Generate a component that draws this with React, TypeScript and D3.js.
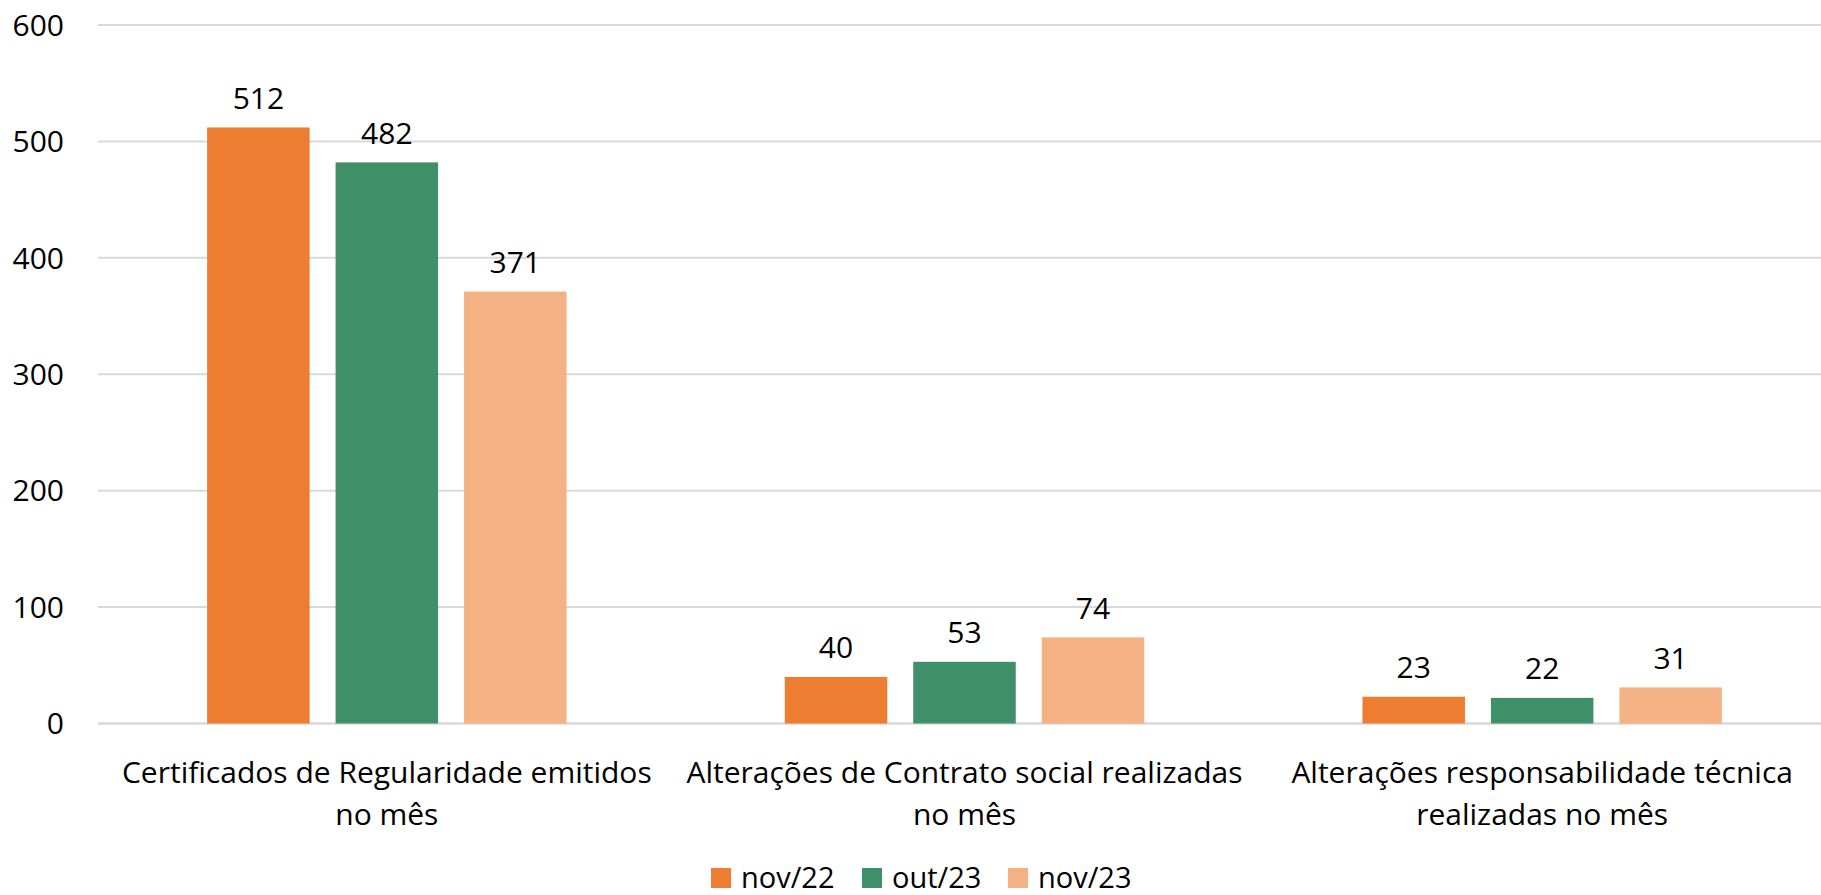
import React from "react";
import * as d3 from "d3";

const categories: string[][] = [
  ["Certificados de Regularidade emitidos", "no mês"],
  ["Alterações de Contrato social realizadas", "no mês"],
  ["Alterações responsabilidade técnica", "realizadas no mês"],
];
const seriesNames = ["nov/22", "out/23", "nov/23"];
const seriesColors = ["#ED7D31", "#3F8F68", "#F4B183"];
const nov22 = [512, 40, 23];
const out23 = [482, 53, 22];
const nov23 = [371, 74, 31];
const seriesValues = [nov22, out23, nov23];
const yTicks = [0, 100, 200, 300, 400, 500, 600];

const W = 1821;
const H = 895;
const FONT = "'Open Sans', 'Noto Sans', sans-serif";
const FS = 30;

export default function App() {
  const y = d3.scaleLinear().domain([0, 600]).range([723.5, 25]);
  const catIdx = categories.map((_, i) => String(i));
  const x0 = d3
    .scaleBand<string>()
    .domain(catIdx)
    .range([98, 1831])
    .paddingInner(0.3778)
    .paddingOuter(0.1889);
  const x1 = d3
    .scaleBand<string>()
    .domain(seriesNames)
    .range([0, x0.bandwidth()])
    .paddingInner(0.2023)
    .paddingOuter(0);

  const legendX = [711, 862, 1008];

  return (
    <svg
      width={W}
      height={H}
      style={{ position: "absolute", left: 0, top: 0, background: "#fff" }}
      fontFamily={FONT}
    >
      {yTicks.map((t) => (
        <g key={t}>
          <line
            x1={98}
            x2={W}
            y1={y(t)}
            y2={y(t)}
            stroke="#D9D9D9"
            strokeWidth={t === 0 ? 2.5 : 2}
          />
          <text
            x={64}
            y={y(t)}
            dy="0.36em"
            textAnchor="end"
            fontSize={FS}
            fill="#000"
          >
            {t}
          </text>
        </g>
      ))}
      {seriesNames.map((s, si) =>
        seriesValues[si].map((v, ci) => {
          const bx = (x0(String(ci)) as number) + (x1(s) as number);
          const bw = x1.bandwidth();
          return (
            <g key={s + ci}>
              <rect
                x={bx}
                y={y(v)}
                width={bw}
                height={y(0) - y(v)}
                fill={seriesColors[si]}
              />
              <text
                x={bx + bw / 2}
                y={y(v) - 18.5}
                textAnchor="middle"
                fontSize={FS}
                fill="#000"
              >
                {v}
              </text>
            </g>
          );
        })
      )}
      {categories.map((lines, ci) => {
        const cx = (x0(String(ci)) as number) + x0.bandwidth() / 2;
        return (
          <text key={ci} textAnchor="middle" fontSize={FS} fill="#000">
            {lines.map((l, li) => (
              <tspan key={li} x={cx} y={783 + li * 42}>
                {l}
              </tspan>
            ))}
          </text>
        );
      })}
      {seriesNames.map((s, si) => (
        <g key={s}>
          <rect x={legendX[si]} y={868} width={20} height={20} fill={seriesColors[si]} />
          <text x={legendX[si] + 30} y={888} fontSize={29} fill="#000">
            {s}
          </text>
        </g>
      ))}
    </svg>
  );
}
